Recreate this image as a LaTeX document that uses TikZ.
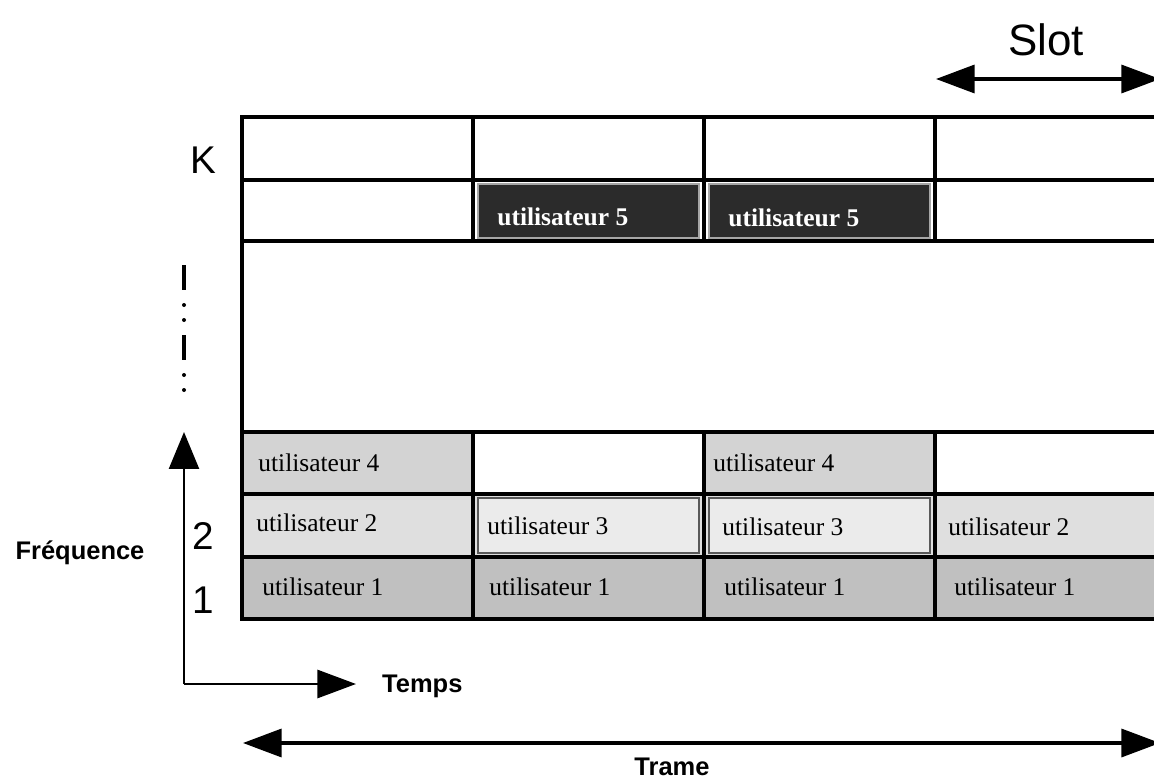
\documentclass[tikz,border=0pt]{standalone}
\usepackage{fontspec}
\setmainfont{Liberation Serif}
\setsansfont{Liberation Sans}
\usetikzlibrary{arrows.meta}

\definecolor{darkcell}{HTML}{2B2B2B}
\definecolor{cellone}{HTML}{C0C0C0}
\definecolor{celltwo}{HTML}{DFDFDF}
\definecolor{cellthree}{HTML}{EBEBEB}
\definecolor{cellfour}{HTML}{D3D3D3}

\begin{document}
\begin{tikzpicture}[x=0.02cm,y=-0.02cm,
		user/.style={anchor=west,inner sep=0pt,font=\fontsize{14.5}{16}\selectfont},
		axis/.style={font=\sffamily\bfseries\fontsize{14.5}{17}\selectfont},
		big/.style={font=\sffamily\fontsize{22}{26}\selectfont},
		grid line/.style={line width=2pt,line cap=rect},
		span/.style={line width=1.8pt,
			{Triangle[length=22pt,width=16pt]}-{Triangle[length=22pt,width=16pt]}}]
	\useasboundingbox (0,0) rectangle (1154,781);

	% fills of the slots
	\fill[cellone] (242,557) rectangle (1154,619);
	\fill[celltwo] (242,494) rectangle (1154,557);
	\fill[cellfour] (242,432) rectangle (473,494);
	\fill[cellfour] (704,432) rectangle (935,494);
	\foreach \x in {478,709}{
		\draw[draw=black!65,line width=1.3pt,fill=cellthree] (\x,498) rectangle ++(221,55);
		\draw[draw=black!35,line width=1pt,fill=darkcell] (\x,184) rectangle ++(221,54);
	}

	% grid
	\foreach \y in {117,180,241,432,494,557,619}
		\draw[grid line] (242,\y) -- (1160,\y);
	\draw[grid line] (242,117) -- (242,619);
	\foreach \x in {473,704,935}{
		\draw[grid line] (\x,117) -- (\x,241);
		\draw[grid line] (\x,432) -- (\x,619);
	}

	% users
	\node[user,text=white,font=\bfseries\fontsize{14.5}{16}\selectfont] (u5a) at (497,217) {utilisateur 5};
	\node[user,text=white,font=\bfseries\fontsize{14.5}{16}\selectfont] (u5b) at (728,218) {utilisateur 5};
	\node[user] (u4a) at (258,463) {utilisateur 4};
	\node[user] (u4b) at (713,463) {utilisateur 4};
	\node[user] (u2a) at (256,523) {utilisateur 2};
	\node[user] (u3a) at (487,526) {utilisateur 3};
	\node[user] (u3b) at (722,527) {utilisateur 3};
	\node[user] (u2b) at (948,527) {utilisateur 2};
	\node[user] (u1a) at (262,587) {utilisateur 1};
	\node[user] (u1b) at (489,587) {utilisateur 1};
	\node[user] (u1c) at (724,587) {utilisateur 1};
	\node[user] (u1d) at (954,587) {utilisateur 1};

	% frequency index
	\node[big] (k) at (203,160) {K};
	\node[big] (two) at (203,536) {2};
	\node[big] (one) at (203,600) {1};
	\foreach \y in {265,335}
		\draw[line width=1.8pt] (184,\y) -- ++(0,25);
	\foreach \y in {305,320,375,390}
		\fill (184,\y) circle (2);

	% axes
	\coordinate (origin) at (184,684);
	\coordinate (ftop) at (184,432);
	\coordinate (tend) at (356,684);
	\draw[line width=1.5pt,-{Triangle[length=21pt,width=17pt]}] (origin) -- (ftop);
	\draw[line width=1.5pt,-{Triangle[length=22pt,width=16pt]}] (origin) -- (tend);
	\node[axis] (freq) at (80,553) {Fréquence};
	\node[axis,anchor=west] (temps) at (376,686) {Temps};

	% frame and slot
	\coordinate (tl) at (243,743);
	\coordinate (tr) at (1160,743);
	\draw[span] (tl) -- (tr);
	\node[axis] (trame) at (672,767) {Trame};
	\coordinate (sl) at (936,79);
	\coordinate (sr) at (1160,79);
	\draw[span] (sl) -- (sr);
	\node[font=\sffamily\fontsize{25}{30}\selectfont] (slot) at (1046,40) {Slot};
\end{tikzpicture}
\end{document}
